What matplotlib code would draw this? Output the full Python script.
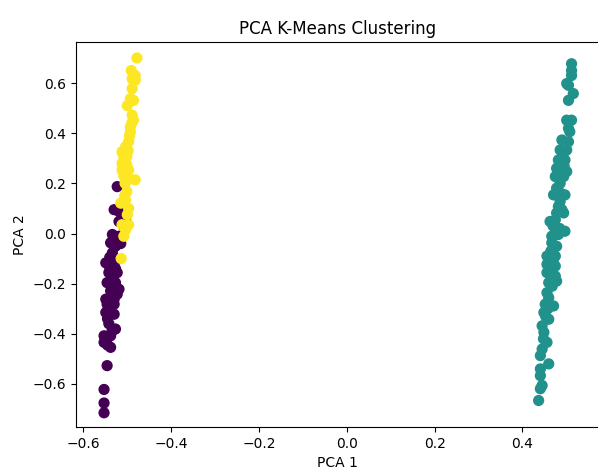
import numpy as np
import matplotlib
matplotlib.use("Agg")
import matplotlib.pyplot as plt

# cluster 0 (purple)
c0_x = [-0.523, -0.530, -0.519, -0.512, -0.504, -0.519, -0.508, -0.534, -0.519, -0.538,
        -0.527, -0.515, -0.534, -0.549, -0.530, -0.542, -0.523, -0.546, -0.527, -0.538,
        -0.519, -0.549, -0.530, -0.523, -0.546, -0.530, -0.549, -0.530, -0.542, -0.527,
        -0.553, -0.538, -0.553, -0.538, -0.546, -0.553, -0.553, -0.553,
        -0.540, -0.535, -0.545, -0.548, -0.530, -0.540, -0.543, -0.535, -0.527, -0.545, -0.535]
c0_y = [0.187, 0.095, 0.088, 0.068, 0.055, 0.048, 0.029, -0.004, -0.011, -0.037,
        -0.051, -0.040, -0.077, -0.117, -0.117, -0.156, -0.156, -0.196, -0.196, -0.229,
        -0.222, -0.262, -0.262, -0.242, -0.282, -0.282, -0.315, -0.322, -0.360, -0.381,
        -0.408, -0.408, -0.434, -0.454, -0.527, -0.622, -0.676, -0.715,
        -0.135, -0.175, -0.340, -0.425, -0.020, -0.095, -0.300, -0.245, -0.140, -0.445, -0.390]

# cluster 1 (teal)
c1_x = [0.512, 0.512, 0.512, 0.501, 0.505, 0.516, 0.505, 0.501, 0.512, 0.505,
        0.508, 0.490, 0.505, 0.486, 0.501, 0.482, 0.497, 0.478, 0.501, 0.475,
        0.494, 0.486, 0.486, 0.478, 0.471, 0.497, 0.486, 0.482, 0.478, 0.494,
        0.463, 0.475, 0.497, 0.467, 0.482, 0.467, 0.478, 0.456, 0.475, 0.456,
        0.475, 0.456, 0.475, 0.460, 0.478, 0.456, 0.460, 0.452, 0.471, 0.449,
        0.460, 0.445, 0.449, 0.456, 0.445, 0.441, 0.460, 0.441, 0.441, 0.445,
        0.441, 0.437,
        0.470, 0.465, 0.470, 0.465, 0.468, 0.488, 0.490, 0.485, 0.470, 0.495,
        0.492, 0.458, 0.453, 0.448]
c1_y = [0.677, 0.650, 0.630, 0.598, 0.591, 0.558, 0.531, 0.452, 0.452, 0.419,
        0.406, 0.373, 0.366, 0.333, 0.333, 0.293, 0.293, 0.260, 0.247, 0.227,
        0.227, 0.240, 0.200, 0.181, 0.154, 0.154, 0.128, 0.108, 0.082, 0.082,
        0.048, 0.055, 0.009, -0.011, -0.004, -0.037, -0.051, -0.090, -0.090, -0.123,
        -0.130, -0.156, -0.170, -0.196, -0.190, -0.236, -0.256, -0.282, -0.289, -0.315,
        -0.342, -0.368, -0.394, -0.434, -0.461, -0.487, -0.520, -0.540, -0.567, -0.606,
        -0.619, -0.666,
        -0.010, -0.070, -0.110, -0.145, -0.210, 0.160, 0.095, 0.020, 0.030, 0.270,
        0.310, -0.300, -0.330, -0.420]

# cluster 2 (yellow)
c2_x = [-0.478, -0.491, -0.482, -0.489, -0.482, -0.489, -0.493, -0.486, -0.500, -0.489,
        -0.486, -0.493, -0.493, -0.497, -0.504, -0.512, -0.508, -0.501, -0.512, -0.501,
        -0.512, -0.497, -0.497, -0.482, -0.501, -0.504, -0.515, -0.497, -0.512, -0.504,
        -0.497, -0.508, -0.514,
        -0.506, -0.508, -0.495, -0.490, -0.505, -0.500, -0.506, -0.510, -0.498]
c2_y = [0.700, 0.650, 0.630, 0.617, 0.612, 0.578, 0.538, 0.531, 0.510, 0.472,
        0.452, 0.425, 0.405, 0.366, 0.346, 0.326, 0.306, 0.306, 0.280, 0.273,
        0.253, 0.253, 0.220, 0.214, 0.167, 0.134, 0.121, 0.100, 0.035, 0.015,
        0.035, -0.011, -0.100,
        0.290, 0.230, 0.390, 0.440, 0.200, 0.075, 0.150, 0.320, 0.330]

x = np.array(c0_x + c1_x + c2_x)
y = np.array(c0_y + c1_y + c2_y)
labels = np.array([0] * len(c0_x) + [1] * len(c1_x) + [2] * len(c2_x))

fig = plt.figure(figsize=(5.98, 4.74), dpi=100)
# axes runs a little past the right edge, like the cropped original
ax = fig.add_axes([0.127, 0.099, 0.875, 0.812])

ax.scatter(x, y, c=labels, cmap='viridis', s=50)
ax.set_xlim(-0.617, 0.575)
ax.set_ylim(-0.772, 0.763)

ax.set_title('PCA K-Means Clustering')
ax.set_xlabel('PCA 1')
ax.set_ylabel('PCA 2')

fig.savefig('out.png', dpi=100)
